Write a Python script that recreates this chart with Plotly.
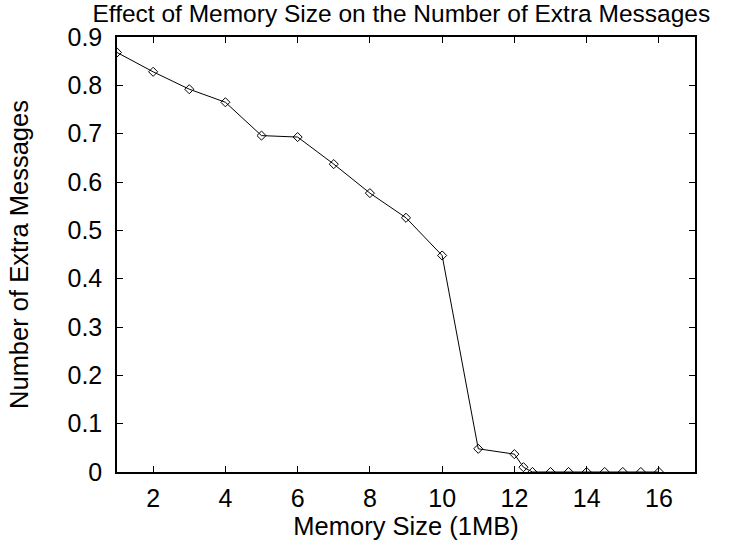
import plotly.graph_objects as go

memory_size = [1, 2, 3, 4, 5, 6, 7, 8, 9, 10, 11, 12, 12.25, 12.5, 13, 13.5, 14, 14.5, 15, 15.5, 16]
extra_messages = [0.868, 0.828, 0.792, 0.765, 0.696, 0.693, 0.637, 0.577, 0.526, 0.448, 0.048, 0.037,
                  0.01, 0.0, 0.0, 0.0, 0.0, 0.0, 0.0, 0.0, 0.0]
x_ticks = [2, 4, 6, 8, 10, 12, 14, 16]
y_ticks = [0, 0.1, 0.2, 0.3, 0.4, 0.5, 0.6, 0.7, 0.8, 0.9]
y_tick_labels = ["0", "0.1", "0.2", "0.3", "0.4", "0.5", "0.6", "0.7", "0.8", "0.9"]

font_family = "Liberation Sans, Arial, sans-serif"
fs = 25
fs_title = 25.5

fig = go.Figure()
fig.add_trace(go.Scatter(
    x=memory_size, y=extra_messages, mode="lines+markers",
    line=dict(color="black", width=1),
    marker=dict(symbol="diamond-open", size=7, color="black", line=dict(width=1, color="black")),
    showlegend=False,
))

axis_common = dict(
    showgrid=False, zeroline=False, showline=True, linecolor="black", linewidth=1.5,
    mirror="ticks", ticks="inside", ticklen=6, tickwidth=1, tickcolor="black",
    tickfont=dict(family=font_family, size=fs, color="black"),
)

fig.update_layout(
    width=731, height=544,
    margin=dict(l=117, r=36, t=37, b=72),
    paper_bgcolor="white", plot_bgcolor="white",
    font=dict(family=font_family, color="black"),
    title=dict(text="Effect of Memory Size on the Number of Extra Messages",
               x=0.549, xanchor="center", y=0.975, yanchor="middle",
               font=dict(family=font_family, size=24.5, color="black")),
    xaxis=dict(range=[1, 17], tickvals=x_ticks, ticklabelstandoff=3,
               title=dict(text="Memory Size (1MB)", standoff=0,
                          font=dict(family=font_family, size=fs_title, color="black")),
               **axis_common),
    yaxis=dict(range=[0, 0.9], tickvals=y_ticks, ticktext=y_tick_labels, ticklabelstandoff=8,
               title=dict(text="Number of Extra Messages", standoff=32,
                          font=dict(family=font_family, size=fs_title, color="black")),
               **axis_common),
)

fig.write_html("out.html")
